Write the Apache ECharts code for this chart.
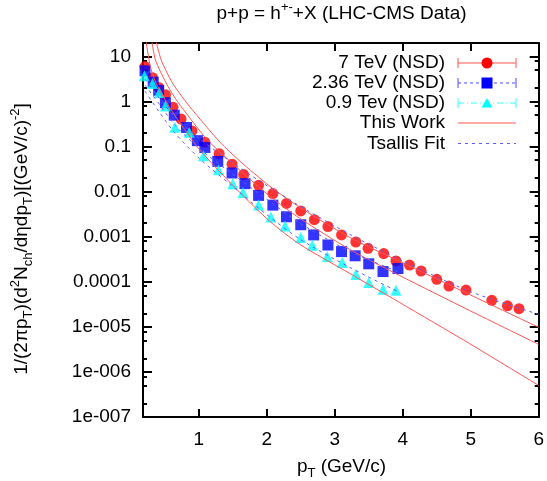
<!DOCTYPE html>
<html><head><meta charset="utf-8">
<script src="https://cdn.jsdelivr.net/npm/echarts@6/dist/echarts.min.js"></script>
<style>html,body{margin:0;padding:0;background:#fff}#c{width:547px;height:481px}</style>
</head><body><div id="c"></div>
<script>
// ---------- data ----------
const pt7   = [0.21,0.32,0.41,0.51,0.62,0.74,0.90,1.09,1.30,1.49,1.66,1.88,2.09,2.29,2.50,2.70,2.90,3.10,3.31,3.49,3.72,3.90,4.10,4.27,4.50,4.68,4.93,5.31,5.54,5.71];
const y7    = [6.0,3.4,2.07,1.42,0.75,0.41,0.224,0.125,0.0699,0.0408,0.0241,0.0139,0.00912,0.0055,0.00374,0.00239,0.00169,0.0011,0.000766,0.000555,0.000425,0.00029,0.000235,0.000174,0.000114,8.07e-5,6.58e-5,3.88e-5,2.93e-5,2.54e-5];
const pt236 = [0.21,0.33,0.41,0.51,0.64,0.82,0.98,1.09,1.28,1.49,1.68,1.88,2.09,2.29,2.50,2.69,2.90,3.10,3.30,3.50,3.71,3.93];
const y236  = [4.83,2.71,1.78,0.946,0.501,0.267,0.136,0.096,0.0471,0.0261,0.0151,0.00828,0.00504,0.00278,0.00185,0.0011,0.000657,0.000469,0.000378,0.000251,0.000169,0.000197];
const pt09  = [0.20,0.32,0.42,0.51,0.65,0.86,1.07,1.29,1.50,1.65,1.88,2.06,2.27,2.50,2.67,2.89,3.11,3.31,3.50,3.71,3.90];
const y09   = [3.74,2.51,1.6,0.8,0.27,0.21,0.0625,0.0308,0.0151,0.0096,0.00506,0.00274,0.00174,0.00096,0.000647,0.000363,0.000267,0.000145,9.64e-5,6.81e-5,6.47e-5];

// "This Work" curves
const twX7   = [0.374,0.443,0.521,0.623,0.814,1.019,1.312,1.606,2.045,2.485,3.218,3.951,4.978,6.0];
const twY7   = [21,8.8,4.76,2.45,0.975,0.408,0.126,0.0476,0.01325,0.00453,0.000975,0.000286,5.27e-5,9.75e-6];
const twX236 = [0.311,0.359,0.433,0.521,0.652,0.814,1.117,1.557,2.045,2.485,3.218,3.951,4.978,6.0];
const twY236 = [21,8.8,4.76,2.58,1.196,0.555,0.147,0.035,0.00794,0.002577,0.000527,0.000139,2.33e-5,4.08e-6];
const twX09  = [0.227,0.286,0.359,0.433,0.579,0.726,1.019,1.557,2.045,2.485,3.218,3.951,4.978,6.0];
const twY09  = [21,6.15,2.86,1.71,0.717,0.333,0.0836,0.01137,0.00221,0.000681,0.0001545,3.5e-5,4.3e-6,5.0e-7];

// Tsallis fit curves
const tsX7   = [0.21,0.43,0.65,1.02,1.46,1.90,2.49,3.22,3.95,4.98,6.0];
const tsY7   = [3.16,1.137,0.453,0.147,0.0476,0.0171,0.00476,0.001137,0.000316,6.15e-5,1.9e-5];
const tsX236 = [0.21,0.43,0.65,1.02,1.46,1.90,2.49,3.22,3.95];
const tsY236 = [2.33,0.836,0.3,0.088,0.0271,0.0088,0.002,0.000476,0.000163];
const tsX09  = [0.21,0.43,0.65,1.02,1.46,1.90,2.49,3.22,3.95];
const tsY09  = [1.71,0.555,0.2,0.0528,0.0147,0.00408,0.00088,0.00021,5.85e-5];

// ticks / labels
const xTickValues = [1,2,3,4,5,6];
const xTickLabels = ['1','2','3','4','5','6'];
const yTickValues = [1e-7,1e-6,1e-5,1e-4,1e-3,1e-2,1e-1,1,10];
const yTickLabels = ['1e-007','1e-006','1e-005','0.0001','0.001','0.01','0.1','1','10'];
const yMinorMantissa = [2,5,8];
const legendNames = ['7 TeV (NSD)','2.36 TeV (NSD)','0.9 Tev (NSD)','This Work','Tsallis Fit'];

// ---------- chart ----------
const FONT = "'Liberation Sans', Arial, Helvetica, sans-serif";
const zip = (xs, ys) => xs.map((x, i) => [x, ys[i]]);
const yMinorValues = [];
yTickValues.forEach(d => yMinorMantissa.forEach(m => { const v = d * m; if (v <= 20) yMinorValues.push(v); }));

function yLabel(v) {
  const i = yTickValues.findIndex(t => Math.abs(Math.log10(t) - Math.log10(v)) < 0.01);
  return i < 0 ? '' : yTickLabels[i];
}
function xLabel(v) {
  const i = xTickValues.findIndex(t => Math.abs(t - v) < 1e-6);
  return i < 0 ? '' : xTickLabels[i];
}

const XMIN = 0.18, XMAX = 6, YMIN = 1e-7, YMAX = 20;
const axLine = { show: true, lineStyle: { color: '#000', width: 2 } };

function xAx(pos, labels) {
  return {
    type: 'value', position: pos, min: XMIN, max: XMAX,
    axisLine: axLine,
    axisTick: { show: true, inside: true, length: 8, customValues: xTickValues, lineStyle: { color: '#000', width: 2 } },
    axisLabel: { show: labels, customValues: xTickValues, formatter: xLabel, fontSize: 19, fontFamily: FONT, color: '#000', margin: 13 },
    splitLine: { show: false }
  };
}
function yAx(pos, labels, minor) {
  return {
    type: 'log', logBase: 10, position: pos, min: YMIN, max: YMAX,
    axisLine: minor ? { show: false } : axLine,
    axisTick: { show: true, inside: true, length: minor ? 4 : 9, customValues: minor ? yMinorValues : yTickValues, lineStyle: { color: '#000', width: 2 } },
    axisLabel: { show: labels, customValues: yTickValues, formatter: yLabel, fontSize: 19, fontFamily: FONT, color: '#000', margin: 12 },
    splitLine: { show: false }, minorTick: { show: false }
  };
}

const redLine = { color: '#ff5555', width: 1 };
const blueDash = { color: '#5c5cff', width: 1, type: [3, 4] };
function curve(name, xs, ys, style) {
  return { name, type: 'line', data: zip(xs, ys), showSymbol: false, symbol: 'none', smooth: 0.25, lineStyle: style, z: 4, clip: true };
}

const rows = [63, 83, 103, 123, 143.5];
const LX1 = 458, LX2 = 516, LXM = 487, TX = 445;
const legendG = [];
rows.forEach((y, i) => legendG.push({ type: 'text', x: TX, y: y, style: { text: legendNames[i], align: 'right', verticalAlign: 'middle', font: '19px ' + FONT, fill: '#000' } }));
function sampleLine(y, stroke, dash, caps) {
  legendG.push({ type: 'line', shape: { x1: LX1, y1: y, x2: LX2, y2: y }, style: { stroke, lineWidth: 1, lineDash: dash } });
  if (caps) {
    legendG.push({ type: 'line', shape: { x1: LX1, y1: y - 5, x2: LX1, y2: y + 5 }, style: { stroke, lineWidth: 1 } });
    legendG.push({ type: 'line', shape: { x1: LX2, y1: y - 5, x2: LX2, y2: y + 5 }, style: { stroke, lineWidth: 1 } });
  }
}
sampleLine(rows[0], '#ff5555', null, true);
legendG.push({ type: 'circle', shape: { cx: LXM, cy: rows[0], r: 5.5 }, style: { fill: '#ff0000' } });
sampleLine(rows[1], '#4a4aff', [3, 3], true);
legendG.push({ type: 'rect', shape: { x: LXM - 5.5, y: rows[1] - 5.5, width: 11, height: 11 }, style: { fill: '#0000ff' } });
sampleLine(rows[2], '#33ffff', [6, 3, 1, 3], true);
legendG.push({ type: 'polygon', shape: { points: [[LXM, rows[2] - 5], [LXM + 5.5, rows[2] + 4.5], [LXM - 5.5, rows[2] + 4.5]] }, style: { fill: '#00ffff' } });
sampleLine(rows[3], '#ff5555', null, false);
sampleLine(rows[4], '#5c5cff', [3, 4], false);

const rich = {
  sub: { fontSize: 13, fontFamily: FONT, lineHeight: 13, verticalAlign: 'bottom', fill: '#000' },
  sup: { fontSize: 13, fontFamily: FONT, lineHeight: 13, verticalAlign: 'top', fill: '#000' },
  n:   { fontSize: 19, fontFamily: FONT, lineHeight: 26, fill: '#000' }
};
const textG = [
  { type: 'text', x: 341.5, y: 14, style: { text: '{n|p+p = h}{sup|+-}{n|+X (LHC-CMS Data)}', align: 'center', verticalAlign: 'middle', rich } },
  { type: 'text', x: 341.5, y: 467, style: { text: '{n|p}{sub|T}{n| (GeV/c)}', align: 'center', verticalAlign: 'middle', rich } },
  { type: 'text', x: 22, y: 239, rotation: Math.PI / 2, style: { text: '{n|1/(2πp}{sub|T}{n|)(d}{sup|2}{n|N}{sub|ch}{n|/dηdp}{sub|T}{n|)[(GeV/c)}{sup|-2}{n|]}', align: 'center', verticalAlign: 'middle', rich } }
];

const chart = echarts.init(document.getElementById('c'), null, { renderer: 'canvas' });
chart.setOption({
  animation: false,
  backgroundColor: '#fff',
  grid: { left: 143, right: 7, top: 43, bottom: 64, containLabel: false },
  xAxis: [xAx('bottom', true), xAx('top', false)],
  yAxis: [yAx('left', true, false), yAx('left', false, true), yAx('right', false, false), yAx('right', false, true)],
  series: [
    { name: legendNames[0], type: 'scatter', data: zip(pt7, y7), symbol: 'circle', symbolSize: 11, itemStyle: { color: '#ff0000' }, z: 2 },
    { name: legendNames[1], type: 'scatter', data: zip(pt236, y236), symbol: 'rect', symbolSize: 11, itemStyle: { color: '#0000ff' }, z: 2 },
    { name: legendNames[2], type: 'scatter', data: zip(pt09, y09), symbol: 'triangle', symbolSize: 11, itemStyle: { color: '#00ffff' }, z: 2 },
    curve('This Work 7', twX7, twY7, redLine),
    curve('This Work 2.36', twX236, twY236, redLine),
    curve('This Work 0.9', twX09, twY09, redLine),
    curve('Tsallis 7', tsX7, tsY7, blueDash),
    curve('Tsallis 2.36', tsX236, tsY236, blueDash),
    curve('Tsallis 0.9', tsX09, tsY09, blueDash)
  ],
  graphic: legendG.concat(textG)
});
</script>
</body></html>
